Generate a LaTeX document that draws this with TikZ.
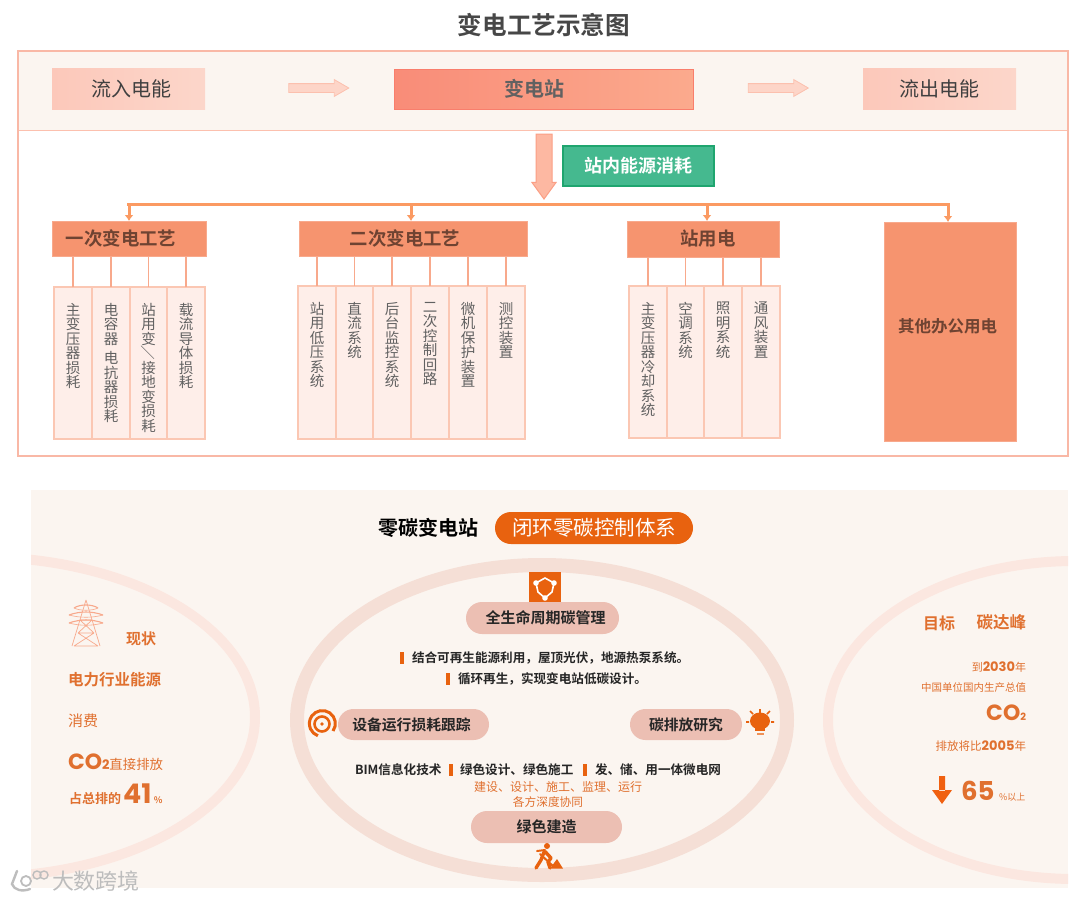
\documentclass[tikz,border=0pt]{standalone}
\usepackage{fontspec}
\usepackage{graphicx}
\setmainfont{Noto Sans CJK SC}[BoldFont={Noto Sans CJK SC Bold}]
\newfontfamily\pop{Poppins}
\usetikzlibrary{arrows.meta,shapes.arrows,calc}
\definecolor{band}{HTML}{FBF5F0}
\definecolor{frameC}{HTML}{F9B8A6}
\definecolor{hdrC}{HTML}{F6946F}
\definecolor{busC}{HTML}{FB9A62}
\definecolor{orgC}{HTML}{E8620F}
\definecolor{txtO}{HTML}{E0702F}
\definecolor{pillC}{HTML}{ECBFB3}
\definecolor{ringL}{HTML}{FBE7E0}
\definecolor{ringC}{HTML}{F5DFD6}
\definecolor{FCC8BA}{HTML}{FCC8BA}
\definecolor{FCD6CA}{HTML}{FCD6CA}
\definecolor{FEEEE9}{HTML}{FEEEE9}
\definecolor{F9BCA6}{HTML}{FBC7B3}
\definecolor{F8A98C}{HTML}{F8A98C}
\definecolor{FDD5C8}{HTML}{FDD5C8}
\definecolor{FCC0AE}{HTML}{FCC0AE}
\definecolor{F98C78}{HTML}{F98C78}
\definecolor{FBAA8D}{HTML}{FBAA8D}
\definecolor{F97E6C}{HTML}{F97E6C}
\definecolor{FDB8A2}{HTML}{FDB8A2}
\definecolor{FB9F85}{HTML}{FB9F85}
\definecolor{GRN}{HTML}{45B98F}
\definecolor{GRD}{HTML}{1FA56F}
\definecolor{F06010}{HTML}{F06010}
\newcommand{\fs}[1]{\fontsize{#1}{#1}\selectfont}
\newcommand{\slashv}{\rotatebox[origin=c]{-90}{／}}
\tikzset{
  every node/.style={inner sep=0pt,outer sep=0pt},
  flowbox/.style={draw=none,left color=FCC8BA,right color=FCD6CA,text=black!75,font=\fs{20}},
  hdr/.style={fill=hdrC,draw=hdrC!80!white,line width=.8pt,font=\bfseries\fs{18.4},text=black!55!hdrC},
  itembox/.style={fill=FEEEE9,draw=F9BCA6,line width=1.1pt,anchor=north west},
  itemtxt/.style={align=center,anchor=north,font=\fs{14.5},text=black!62},
  stem/.style={draw=F8A98C,line width=1.4pt},
  bus/.style={draw=busC,line width=3.4pt},
  drop/.style={draw=busC,line width=3pt,-{Latex[length=6pt,width=9pt]}},
  flowarrow/.style={single arrow,inner sep=4pt,fill=FDD5C8,draw=FCC0AE,line width=.8pt,minimum height=60,minimum width=16,single arrow head extend=4,single arrow tip angle=60},
  pill/.style={fill=pillC,rounded corners=15.5,font=\bfseries\fs{14.8},text=black!85},
  body/.style={font=\bfseries\fs{12.6},text=black!85},
  barm/.style={fill=orgC},
  oT/.style={text=txtO},
}
\begin{document}
\begin{tikzpicture}[x=1pt,y=-1pt]
\useasboundingbox (0,0) rectangle (1080,900);
\fill[white] (0,0) rectangle (1080,900);
% ---------- top panel
\node (title) at (544,25) {\bfseries\fs{24.6}\textcolor{black!72}{变电工艺示意图}};
\fill[band] (18,51) rectangle (1068,130);
\draw[FCC0AE,line width=1pt] (18,130.5) -- (1068,130.5);
\draw[frameC,line width=2pt] (18,51) rectangle (1068,456);
\node[flowbox,minimum width=153,minimum height=41] (in) at (128.5,88.5) {\hspace{5pt}流入电能};
\node[minimum width=299,minimum height=40,left color=F98C78,right color=FBAA8D,draw=F97E6C,line width=1pt,font=\bfseries\fs{20},text=black!62] (sub) at (543.5,89) {变电站\kern 19pt\relax};
\node[flowbox,minimum width=153,minimum height=41] (out) at (939.5,88.5) {流出电能};
\node[flowarrow] (a1) at (315,88) {};
\node[flowarrow] (a2) at (774.5,88) {};
\node[single arrow,inner sep=7.5pt,shape border rotate=270,fill=FDB8A2,draw=FB9F85,line width=1pt,minimum height=65,minimum width=23,single arrow head extend=4,single arrow tip angle=72] (down) at (544,161) {};
\node[minimum width=151,minimum height=40,fill=GRN,draw=GRD,line width=1.2pt,text=white,font=\bfseries\fs{18}] (green) at (638.5,166) {站内能源消耗};
% headers
\node[hdr,minimum width=154,minimum height=35] (h1) at (129,238.5) {一次变电工艺\kern 16pt\relax};
\node[hdr,minimum width=228,minimum height=35] (h2) at (413,238.5) {二次变电工艺\kern 16pt\relax};
\node[hdr,minimum width=152,minimum height=36] (h3) at (703,239) {\hspace{10pt}站用电};
\node[hdr,minimum width=132,minimum height=219] (h4) at (950,331.5) {};
\node[font=\bfseries\fs{16.5},text=black!55!hdrC] (h4t) at (947.5,326) {其他办公用电};
% bus
\coordinate (b1) at (129,204.5);
\coordinate (b2) at (411,204.5);
\coordinate (b3) at (707,204.5);
\coordinate (b4) at (948,204.5);
\draw[bus,line cap=rect] (b1) -- (b4);
\draw[drop] (b1) -- (b1 |- h1.north);
\draw[drop] (b2) -- (b2 |- h2.north);
\draw[drop] (b3) -- (b3 |- h3.north);
\draw[drop] (b4) -- (b4 |- h4.north);
% item columns
\foreach \n/\xa/\w/\ya/\hh/\hd/\t in {
 A1/54/38/287/152/h1/{主\\变\\压\\器\\损\\耗},
 A2/92/38/287/152/h1/{电\\容\\器\\[5pt]电\\抗\\器\\损\\耗},
 A3/130/37/287/152/h1/{站\\用\\变\\\slashv\\接\\地\\变\\损\\耗},
 A4/167/38/287/152/h1/{载\\流\\导\\体\\损\\耗},
 B1/298/38/286/153/h2/{站\\用\\低\\压\\系\\统},
 B2/336/37/286/153/h2/{直\\流\\系\\统},
 B3/373/38/286/153/h2/{后\\台\\监\\控\\系\\统},
 B4/411/38/286/153/h2/{二\\次\\控\\制\\回\\路},
 B5/449/38/286/153/h2/{微\\机\\保\\护\\装\\置},
 B6/487/38/286/153/h2/{测\\控\\装\\置},
 C1/629/38/286/152/h3/{主\\变\\压\\器\\冷\\却\\系\\统},
 C2/667/37/286/152/h3/{空\\调\\系\\统},
 C3/704/38/286/152/h3/{照\\明\\系\\统},
 C4/742/38/286/152/h3/{通\\风\\装\\置}}{
  \node[itembox,minimum width=\w,minimum height=\hh] (\n) at (\xa,\ya) {};
  \draw[stem] (\n.north) -- (\n.north |- \hd.south);
  \node[itemtxt] (\n t) at ([yshift=-16pt]\n.north) {\t};
}
% ---------- bottom panel
\fill[band] (31,490) rectangle (1068,888);
\begin{scope}
\clip (31,490) rectangle (1068,888);
\draw[ringL,line width=10pt] (-20,717) ellipse [x radius=275,y radius=160];
\draw[ringL,line width=10pt] (1075,720) ellipse [x radius=247,y radius=159];
\end{scope}
\draw[ringC,line width=14pt] (542,720) ellipse [x radius=245,y radius=155];
\node (zc) at (428,528) {\bfseries\fs{20}\textcolor{black}{零碳变电站}};
\node[fill=orgC,minimum width=198,minimum height=32,rounded corners=16,text=white,font=\fs{20.5}] (zp) at (594,528) {闭环零碳控制体系};
% hex icon
\node[fill=orgC,minimum width=32,minimum height=30] (ic1) at (545,587) {};
\draw[white,line width=1.6pt] (ic1.center) +(-9,-4) -- +(0,-9) -- +(9,-4) -- +(7,5) -- +(0,11) -- +(-7,5) -- cycle;
\foreach \p in {(-9,-4),(9,-4),(0,11)} \fill[white] (ic1.center) ++\p circle (2.8);
\node[pill,minimum width=153,minimum height=32,rounded corners=16,font=\bfseries\fs{15}] (p1) at (542.5,618) {\hspace{6pt}全生命周期碳管理};
\node[body,anchor=west] (l1) at (412,658) {结合可再生能源利用，屋顶光伏，地源热泵系统。};
\fill[barm] (400,652) rectangle (404,664);
\node[body,anchor=west] (l2) at (458,679) {循环再生，实现变电站低碳设计。};
\fill[barm] (446,673) rectangle (450,685);
\node[pill,minimum width=151,minimum height=31] (p2) at (413.5,724.5) {设备运行损耗跟踪\kern 4pt\relax};
\node[pill,minimum width=112,minimum height=31] (p3) at (686,724.5) {碳排放研究};
\node[pill,minimum width=151,minimum height=32,rounded corners=16,font=\bfseries\fs{15}] (p4) at (546.5,827) {绿色建造};
% spiral icon
\draw[orgC,line width=3pt] (322,724) ++(11,7) arc (35:-250:13);
\draw[orgC,line width=2.6pt] (322,724) circle (7.5);
\fill[orgC] (322,724) circle (1.8);
% bulb icon
\fill[orgC] (760,721) ellipse (10 and 8.5);
\fill[orgC] (755,727) rectangle (765,731);
\fill[orgC!70!white] (756.5,732.5) rectangle (763.5,734.5);
\draw[orgC,line width=1.6pt] (760,709) -- (760,713) (746,722) -- (749,722) (771,722) -- (774,722) (750,711) -- (753,714) (770,711) -- (767,714);
% line BIM
\node[body,anchor=west] (m1) at (355,770) {BIM信息化技术};
\fill[barm] (449,764) rectangle (453,776);
\node[body,anchor=west] (m2) at (460,770) {绿色设计、绿色施工};
\fill[barm] (583,764) rectangle (587,776);
\node[body,anchor=west] (m3) at (595,770) {发、储、用一体微电网};
\node[oT,font=\fs{12}] (o1) at (558,787) {建设、设计、施工、监理、运行};
\node[oT,font=\fs{11.7}] (o2) at (548,802) {各方深度协同};
% worker
\fill[orgC] (547,846) circle (3);
\draw[orgC,line width=3.4pt,line cap=round,line join=round] (545,851.5) -- (551,858) -- (548,862) -- (550,868) (544,852) -- (541,860) -- (536,868);
\draw[orgC,line width=2pt,line cap=round] (537,851) -- (545,850) (540,854) -- (553,866);
\fill[orgC] (550,868.5) -- (557,859) -- (563,868.5) -- cycle;
% left column
\draw[color=hdrC!80!white,line width=.7pt] (86,600) -- (72,646) (86,600) -- (100,646) (80,620) -- (92,620) (80,620) -- (94,633) (92,620) -- (78,633) (78,633) -- (94,633) (94,633) -- (74,646) (78,633) -- (98,646) (74,646) -- (98,646);
\foreach \yy/\ww in {606/12,613/17,621/17} {
  \draw[color=hdrC!80!white,line width=1.1pt] (86-\ww,\yy+2) .. controls (80,\yy-2) and (92,\yy-2) .. (86+\ww,\yy+2);
  \draw[color=hdrC!80!white,line width=.6pt] (86-\ww,\yy+2) .. controls (80,\yy+5) and (92,\yy+5) .. (86+\ww,\yy+2);
}
\node[oT,font=\bfseries\fs{15}] (L1) at (141,639) {现状};
\node[oT,font=\bfseries\fs{15.5},anchor=west] (L2) at (68,680) {电力行业能源};
\node[oT,font=\fs{15},anchor=west] (L3) at (68,721) {消费};
\node[oT,anchor=base west] (L4) at (68,769) {{\pop\bfseries\fs{22}CO\fs{13}2}\fs{13.4}直接排放};
\node[oT,anchor=base west] (L5) at (69,803) {\bfseries\fs{13}占总排的\,{\pop\fs{27}41}\,\fs{9}\%};
% right column
\node[oT,font=\bfseries\fs{16},anchor=west] (R1) at (923,623) {目标};
\node[oT,font=\bfseries\fs{16.5},anchor=east] (R2) at (1026,622) {碳达峰};
\node[oT,anchor=base east] (R3) at (1026,671) {\fs{11}到{\pop\bfseries\fs{13}2030}\fs{11}年};
\node[oT,font=\fs{10.5},anchor=east] (R4) at (1026,688) {中国单位国内生产总值};
\node[oT,anchor=base east] (R5) at (1026,720) {\pop\bfseries\fs{22}CO\fs{10}2};
\node[oT,anchor=base east] (R6) at (1026,750) {\fs{11.5}排放将比{\pop\bfseries\fs{13}2005}\fs{11.5}年};
\fill[F06010] (939,776) rectangle (945,791) (932,790) -- (952,790) -- (942,804) -- cycle;
\node[oT,anchor=base west,font=\pop\bfseries\fs{26}] (R7) at (961,800) {65};
\node[oT,anchor=base west,font=\fs{9}] (R8) at (999,800) {\%以上};
% watermark
\draw[black!26,line width=2.4pt,line cap=round] (17,871) -- (12,884) .. controls (14,890) and (22,892) .. (30,889);
\draw[black!26,line width=1.8pt] (26,881) circle (5);
\draw[black!26,line width=1.4pt] (37,875) circle (4) (44,875) circle (4);
\node[font=\fs{22},text=black!26] (wm) at (96,881) {大数跨境};
\end{tikzpicture}
\end{document}
